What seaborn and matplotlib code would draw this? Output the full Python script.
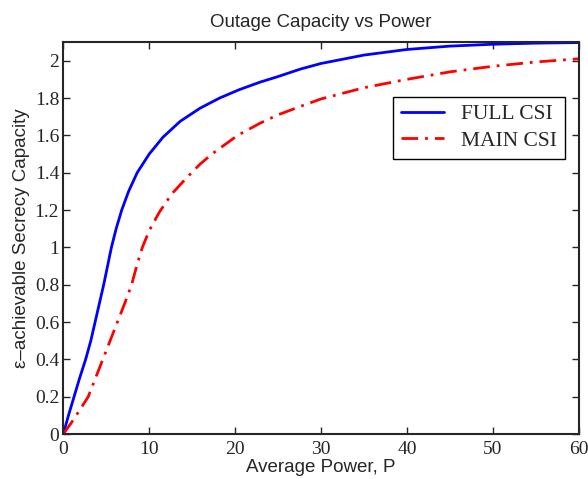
import matplotlib
matplotlib.use("Agg")
import matplotlib.pyplot as plt
import seaborn as sns
import pandas as pd

# values
full_power = [0, 0.6, 1.25, 1.9, 2.6, 3.2, 3.7, 4.2, 4.7, 5.15, 5.6, 6.15, 6.8,
              7.6, 8.6, 10, 11.6, 13.6, 15.9, 18.2, 20.5, 22.9, 25, 27.6, 30,
              35, 40, 45, 50, 55, 60]
full_cap = [0, 0.1, 0.2, 0.3, 0.4, 0.5, 0.6, 0.7, 0.8, 0.9, 1.0, 1.1, 1.2,
            1.3, 1.4, 1.5, 1.59, 1.675, 1.745, 1.8, 1.845, 1.885, 1.915, 1.955,
            1.985, 2.03, 2.06, 2.078, 2.088, 2.094, 2.097]
main_power = [0, 1, 2, 2.9, 3.75, 4.6, 5.45, 6.3, 7.15, 7.95, 8.6, 9.2, 10,
              11.2, 12.6, 14.4, 15.9, 17.3, 18.8, 20.3, 22.9, 25, 27.6, 30,
              35, 40, 45, 50, 55, 60]
main_cap = [0, 0.065, 0.135, 0.2, 0.3, 0.4, 0.5, 0.6, 0.7, 0.8, 0.91, 1.0,
            1.09, 1.19, 1.285, 1.375, 1.445, 1.5, 1.55, 1.6, 1.665, 1.71,
            1.755, 1.795, 1.855, 1.9, 1.94, 1.97, 1.993, 2.01]

df = pd.concat([
    pd.DataFrame({"P": full_power, "C": full_cap, "csi": "FULL CSI"}),
    pd.DataFrame({"P": main_power, "C": main_cap, "csi": "MAIN CSI"}),
])

sns.set_style("ticks")
plt.rcParams["font.family"] = ["Liberation Serif", "DejaVu Serif"]
plt.rcParams["xtick.direction"] = "in"
plt.rcParams["ytick.direction"] = "in"

fig = plt.figure(figsize=(5.88, 4.79), dpi=100)
ax = fig.add_axes([0.1077, 0.0939, 0.8765, 0.8184])

sns.lineplot(data=df, x="P", y="C", hue="csi", style="csi",
             palette={"FULL CSI": "#0000ff", "MAIN CSI": "#ff0000"},
             dashes={"FULL CSI": "", "MAIN CSI": (6, 2.5, 1, 2.5)},
             linewidth=2, sort=False, estimator=None, ax=ax)

ax.set_xlim(0, 60)
ax.set_ylim(0, 2.1)
ax.set_xticks(range(0, 61, 10))
ax.set_yticks([0, 0.2, 0.4, 0.6, 0.8, 1, 1.2, 1.4, 1.6, 1.8, 2])
ax.set_yticklabels(["0", "0.2", "0.4", "0.6", "0.8", "1", "1.2", "1.4", "1.6", "1.8", "2"])
ax.tick_params(axis="both", which="both", top=True, right=True, length=5,
               width=1, labelsize=14)
ax.tick_params(axis="x", pad=5)
ax.tick_params(axis="y", pad=3)
for s in ax.spines.values():
    s.set_linewidth(1.5)
    s.set_visible(True)

sans = ["Liberation Sans", "DejaVu Sans"]
ax.set_title("Outage Capacity vs Power", family=sans, fontsize=13.5, pad=11)
ax.set_xlabel("Average Power, P", family=sans, fontsize=13.5, labelpad=1)
ax.set_ylabel("\u03b5\u2013achievable Secrecy Capacity", family=sans, fontsize=13.5, labelpad=3)

leg = ax.legend(loc="upper right", bbox_to_anchor=(0.973, 0.86), fontsize=15.5,
                fancybox=False, framealpha=1, edgecolor="black", handlelength=2.0,
                borderpad=0.35, labelspacing=0.3, handletextpad=0.8,
                borderaxespad=0)
leg.get_frame().set_linewidth(1)
leg.set_title(None)

fig.savefig("out.png", dpi=100)
